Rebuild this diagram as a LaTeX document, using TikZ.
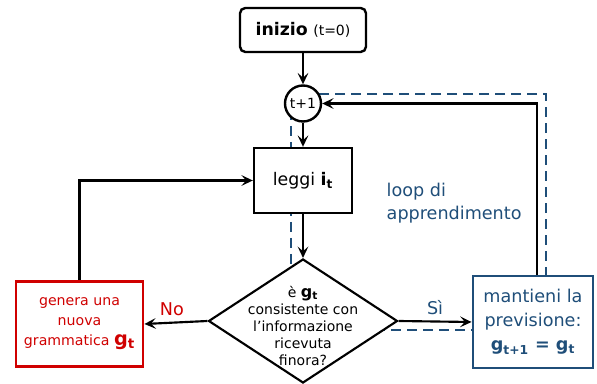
\documentclass[tikz,border=0pt]{standalone}
\usepackage{fontspec}
\setmainfont{DejaVu Sans}
\usepackage{tikz}
\usetikzlibrary{arrows.meta, shapes.geometric}
\definecolor{loopblue}{HTML}{1F4E79}
\definecolor{newred}{HTML}{D00000}

\begin{document}
\begin{tikzpicture}[x=0.75pt, y=-0.75pt,
  startbox/.style = {draw, line width=1.8pt, rounded corners=4pt, fill=white, minimum width=94.5pt, minimum height=33pt, align=center},
  tickc/.style    = {draw, circle, line width=1.8pt, fill=white, minimum size=27pt, inner sep=0pt, font=\fontsize{10.5}{12}\selectfont},
  readbox/.style  = {draw, line width=1.8pt, fill=white, minimum width=73.5pt, minimum height=48.75pt, font=\fontsize{13}{15}\selectfont},
  checkbox/.style = {draw, diamond, line width=1.6pt, fill=white, minimum width=141.75pt, minimum height=93pt, inner sep=0pt},
  genbox/.style   = {draw=newred, line width=2.2pt, fill=white, text=newred, minimum width=95.25pt, minimum height=63.75pt, inner sep=2pt, align=center, font=\fontsize{10.6}{15}\selectfont},
  keepbox/.style  = {draw=loopblue, line width=2.2pt, fill=white, text=loopblue, minimum width=90pt, minimum height=69pt, align=center, font=\fontsize{13.2}{18}\selectfont},
  arr/.style      = {-{Stealth[length=8.5pt,width=8pt,inset=3.5pt]}, line width=1.6pt},
  loopline/.style = {draw=loopblue, line width=2pt, dash pattern=on 7.5pt off 4.5pt},
  lbl/.style      = {font=\fontsize{13.2}{17}\selectfont},
]
\useasboundingbox (0,0) rectangle (597,384);
% loop frame behind the nodes
\draw[loopline] (291,94) rectangle (546,330);
\node[startbox] (start) at (303,30) {\fontsize{13}{15}\selectfont\textbf{inizio} \fontsize{10.5}{12}\selectfont(t=0)};
\node[tickc] (tick) at (303,103.5) {t+1};
\node[readbox] (read) at (303,180.5) {leggi \textbf{i\textsubscript{t}}};
\node[checkbox, label={[font=\fontsize{10.5}{12.8}\selectfont, align=center, yshift=-3.5pt]center:{è {\large\textbf{g\textsubscript{t}}}\\consistente con\\l’informazione\\ricevuta\\finora?}}] (check) at (303,321) {};
\node[genbox] (newgram) at (79.5,324) {genera una\\nuova\\grammatica {\fontsize{14.5}{15}\selectfont\textbf{g\textsubscript{t}}}};
\node[keepbox] (keep) at (533,322) {mantieni la\\previsione:\\\textbf{g\textsubscript{t+1} = g\textsubscript{t}}};
\node[lbl, text=loopblue, align=left, anchor=west] (looptxt) at (382,203) {loop di\\apprendimento};
\draw[arr] (start.south) -- (tick.north);
\draw[arr] (tick.south) -- (read.north);
\draw[arr] (read.south) -- (check.north);
\draw[arr] (check.west) -- node[lbl, text=newred, above=1pt, xshift=-3pt] {No} (newgram.east);
\draw[arr] (check.east) -- node[lbl, text=loopblue, above=1pt] {Sì} (keep.west);
\draw[arr] ([xshift=3pt]keep.north) |- (tick.east);
\draw[arr] (newgram.north) |- (read.west);
\end{tikzpicture}
\end{document}
